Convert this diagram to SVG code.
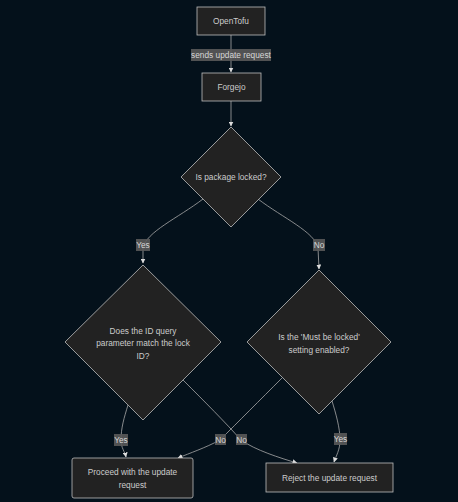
<svg xmlns="http://www.w3.org/2000/svg" width="458" height="502" viewBox="0 0 458 502">
<defs>
<style>
.node{fill:#222222;stroke:#bdbdbd;stroke-width:0.8}
.t{font-family:"Liberation Sans",Arial,sans-serif;font-size:8.3px;fill:#cccccc;text-anchor:middle}
.e{fill:none;stroke:#a8a8a8;stroke-width:0.8}
.lb{fill:#5a5a5a;opacity:0.9}
.lt{font-family:"Liberation Sans",Arial,sans-serif;font-size:8.3px;fill:#d6d6d6;text-anchor:middle}
</style>
<marker id="ah" viewBox="0 0 10 10" refX="9" refY="5" markerWidth="5" markerHeight="5" orient="auto" markerUnits="userSpaceOnUse">
<path d="M0,0 L10,5 L0,10 z" fill="#dddddd"/>
</marker>
</defs>
<rect width="458" height="502" fill="#04111b"/>
<g id="connectors">
<path class="e" d="M231,35 L231,72" marker-end="url(#ah)"/>
<path class="e" d="M231,101 L231,126" marker-end="url(#ah)"/>
<path class="e" d="M203,199 C178,218 146,232 143,248 L143,263" marker-end="url(#ah)"/>
<path class="e" d="M258,199 C283,218 315,232 318,248 L319,269" marker-end="url(#ah)"/>
<path class="e" d="M128,405 C124,418 121,428 121,440 C121,448 125,452 126,457" marker-end="url(#ah)"/>
<path class="e" d="M183,380 C205,402 225,422 241,440 C255,450 280,458 297,463" marker-end="url(#ah)"/>
<path class="e" d="M282,378 C260,400 238,422 220,440 C205,448 190,453 178,458" marker-end="url(#ah)"/>
<path class="e" d="M332,401 C336,414 340,428 340,440 C340,450 336,456 334,462" marker-end="url(#ah)"/>
<g id="edge-labels">
<rect class="lb" x="191" y="49" width="80" height="12"/>
<text class="lt" x="231" y="58">sends update request</text>
<rect class="lb" x="136" y="239" width="14" height="12"/>
<text class="lt" x="143" y="248">Yes</text>
<rect class="lb" x="313" y="239" width="12" height="12"/>
<text class="lt" x="319" y="248">No</text>
<rect class="lb" x="114" y="434" width="14" height="12"/>
<text class="lt" x="121" y="443">Yes</text>
<rect class="lb" x="215" y="434" width="11" height="11"/>
<text class="lt" x="220.5" y="443">No</text>
<rect class="lb" x="236" y="434" width="11" height="11"/>
<text class="lt" x="241.5" y="443">No</text>
<rect class="lb" x="334" y="433" width="13" height="12"/>
<text class="lt" x="340.5" y="442">Yes</text>
</g>
</g>
<g id="opentofu">
<rect class="node" x="197" y="7" width="68" height="28"/>
<text class="t" x="231" y="24">OpenTofu</text>
</g>
<g id="forgejo">
<rect class="node" x="202" y="73" width="59" height="28"/>
<text class="t" x="231.5" y="90">Forgejo</text>
</g>
<g id="locked">
<polygon class="node" points="231,127 281,177 231,227 181,177"/>
<text class="t" x="231" y="180">Is package locked?</text>
</g>
<g id="match">
<polygon class="node" points="143,265 221,342 143,420 65,342"/>
<text class="t" x="143" y="334">Does the ID query</text>
<text class="t" x="143" y="346">parameter match the lock</text>
<text class="t" x="143" y="359">ID?</text>
</g>
<g id="mustlock">
<polygon class="node" points="319,270 391,342 319,414 247,342"/>
<text class="t" x="319" y="340">Is the 'Must be locked'</text>
<text class="t" x="319" y="353">setting enabled?</text>
</g>
<g id="proceed">
<rect class="node" x="72" y="458" width="121" height="40" rx="2"/>
<text class="t" x="132.5" y="475">Proceed with the update</text>
<text class="t" x="132.5" y="488">request</text>
</g>
<g id="reject">
<rect class="node" x="266" y="463" width="127" height="29"/>
<text class="t" x="329.5" y="481">Reject the update request</text>
</g>
</svg>
